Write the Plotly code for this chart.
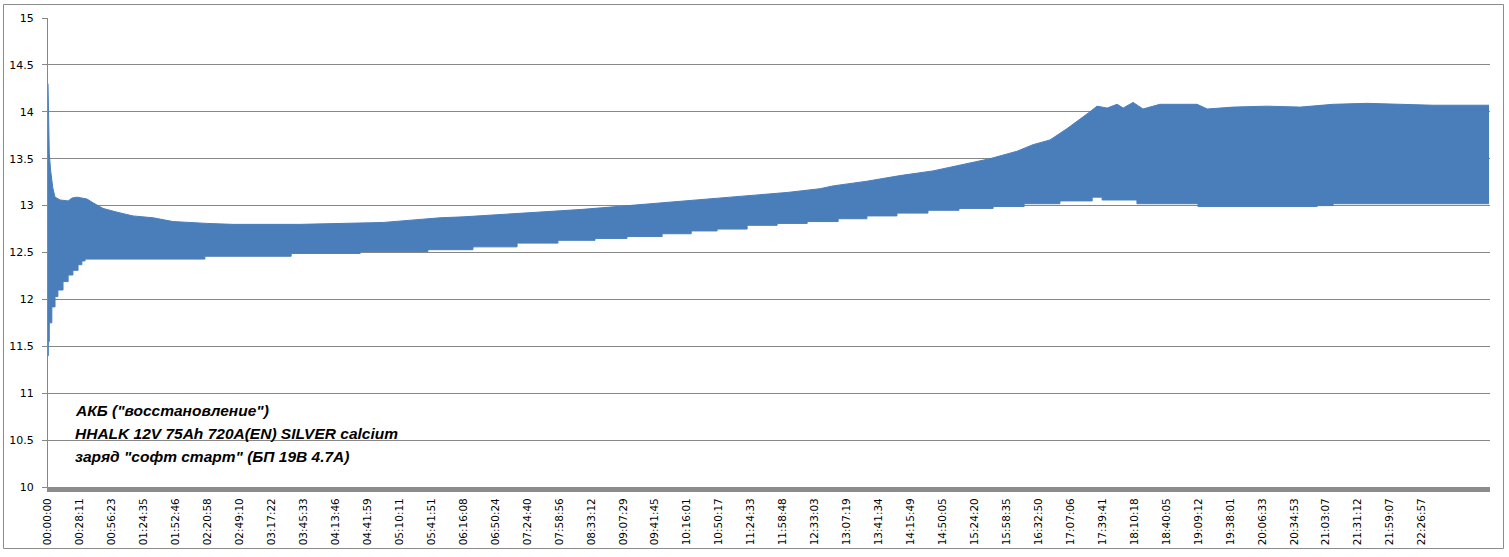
import plotly.graph_objects as go

# Category labels shown on the x axis (every N-th sample of the log)
time_labels = [
    "00:00:00", "00:28:11", "00:56:23", "01:24:35", "01:52:46", "02:20:58",
    "02:49:10", "03:17:22", "03:45:33", "04:13:46", "04:41:59", "05:10:11",
    "05:41:51", "06:16:08", "06:50:24", "07:24:40", "07:58:56", "08:33:12",
    "09:07:29", "09:41:45", "10:16:01", "10:50:17", "11:24:33", "11:58:48",
    "12:33:03", "13:07:19", "13:41:34", "14:15:49", "14:50:05", "15:24:20",
    "15:58:35", "16:32:50", "17:07:06", "17:39:41", "18:10:18", "18:40:05",
    "19:09:12", "19:38:01", "20:06:33", "20:34:53", "21:03:07", "21:31:12",
    "21:59:07", "22:26:57",
]

# Upper envelope of the voltage oscillation (position in label units, volts)
upper_pos = [0.00, 0.01, 0.04, 0.08, 0.15, 0.22, 0.38, 0.63, 0.75, 0.91, 1.22,
             1.41, 1.72, 2.16, 2.66, 3.29, 3.91, 4.98, 5.79, 7.89, 10.49, 11.55,
             12.27, 12.99, 14.05, 15.09, 15.81, 16.74, 18.12, 18.94, 20.00, 21.03,
             22.07, 23.13, 24.16, 24.57, 25.63, 26.67, 27.70, 28.76, 29.48, 30.33,
             30.83, 31.36, 31.89, 32.61, 32.83, 33.15, 33.46, 33.65, 33.96, 34.27,
             34.80, 35.96, 36.28, 37.09, 38.15, 39.19, 40.22, 41.28, 42.32, 43.35,
             45.10]
upper_volts = [14.30, 14.06, 13.56, 13.38, 13.19, 13.09, 13.06, 13.05, 13.08, 13.09, 13.07,
               13.03, 12.97, 12.93, 12.89, 12.87, 12.83, 12.81, 12.80, 12.80, 12.82, 12.85,
               12.87, 12.88, 12.90, 12.92, 12.94, 12.96, 13.00, 13.02, 13.05, 13.08,
               13.11, 13.14, 13.18, 13.21, 13.26, 13.32, 13.37, 13.45, 13.50, 13.58,
               13.65, 13.70, 13.82, 14.00, 14.06, 14.04, 14.08, 14.04, 14.10, 14.03,
               14.08, 14.08, 14.03, 14.05, 14.06, 14.05, 14.08, 14.09, 14.08, 14.07,
               14.07]

# Lower envelope of the voltage oscillation
lower_pos = [0.00, 0.01, 0.04, 0.12, 0.22, 0.31, 0.47, 0.63, 0.78, 0.94, 1.06,
             1.16, 4.51, 4.91, 7.57, 7.61, 9.77, 11.89, 13.30, 14.68, 15.96,
             17.12, 18.12, 19.22, 20.13, 20.94, 21.88, 22.82, 23.76, 24.73, 25.63,
             26.57, 27.54, 28.51, 29.58, 30.55, 31.67, 32.68, 32.99, 34.08, 35.99,
             39.72, 40.22, 45.10]
lower_volts = [11.40, 11.55, 11.75, 11.92, 12.03, 12.10, 12.19, 12.26, 12.31, 12.37, 12.41,
               12.43, 12.43, 12.46, 12.46, 12.49, 12.51, 12.53, 12.56, 12.60, 12.63,
               12.65, 12.67, 12.70, 12.73, 12.75, 12.79, 12.81, 12.83, 12.86, 12.89,
               12.92, 12.95, 12.97, 12.99, 13.02, 13.05, 13.09, 13.06, 13.02, 12.99,
               13.00, 13.02, 13.02]

caption_lines = [
    'АКБ ("восстановление")',
    "HHALK 12V 75Ah 720A(EN) SILVER calcium",
    'заряд "софт старт" (БП 19В 4.7А)',
]

BLUE = "rgb(74,126,187)"
GRID = "#878787"

fig = go.Figure()
fig.add_trace(go.Scatter(x=lower_pos, y=lower_volts, mode="lines", line_shape="hv",
                         line=dict(color=BLUE, width=1), showlegend=False, hoverinfo="skip"))
fig.add_trace(go.Scatter(x=upper_pos, y=upper_volts, mode="lines",
                         line=dict(color=BLUE, width=1), fill="tonexty", fillcolor=BLUE,
                         showlegend=False, hoverinfo="skip"))

L, R, T, B = 48, 19, 18, 70
W, H = 1509, 557
pw, ph = W - L - R, H - T - B

def px_x(px):
    return (px - L) / pw

def px_y(py):
    return (H - B - py) / ph

fig.update_layout(
    width=W, height=H,
    margin=dict(l=L, r=R, t=T, b=B, pad=0),
    paper_bgcolor="white", plot_bgcolor="white",
    font=dict(family="DejaVu Sans", size=10, color="black"),
    xaxis=dict(
        range=[0, 45.13],
        tickmode="array", tickvals=list(range(len(time_labels))), ticktext=time_labels,
        tickangle=-90, tickfont=dict(family="DejaVu Sans", size=10.5, color="black"),
        showgrid=False, zeroline=False,
        showline=True, linecolor="#8c8c8c", linewidth=5,
        ticks="", ticklabelstandoff=2, automargin=False,
    ),
    yaxis=dict(
        range=[10, 15], dtick=0.5, tickformat="~g",
        showgrid=True, gridcolor=GRID, gridwidth=1,
        zeroline=False, showline=True, linecolor=GRID, linewidth=1,
        ticks="outside", ticklen=5, tickcolor=GRID, ticklabelstandoff=6,
        tickfont=dict(family="DejaVu Sans", size=11, color="black"), automargin=False,
    ),
    shapes=[dict(type="rect", xref="paper", yref="paper",
                 x0=px_x(3.5), x1=px_x(1503.5), y0=px_y(548.5), y1=px_y(4.5),
                 line=dict(color="#8c8c8c", width=1), fillcolor="rgba(0,0,0,0)", layer="below")],
)

for i, (line, cy) in enumerate(zip(caption_lines, [410, 433, 456])):
    fig.add_annotation(xref="paper", yref="paper", x=px_x(73), y=px_y(cy),
                       xanchor="left", yanchor="middle", showarrow=False,
                       text="<b><i>" + line + "</i></b>",
                       font=dict(family="Liberation Sans", size=15.5, color="black"))

fig.write_html("out.html", config={"displayModeBar": False},
               post_script="document.body.style.margin='0';document.body.style.padding='0';")
